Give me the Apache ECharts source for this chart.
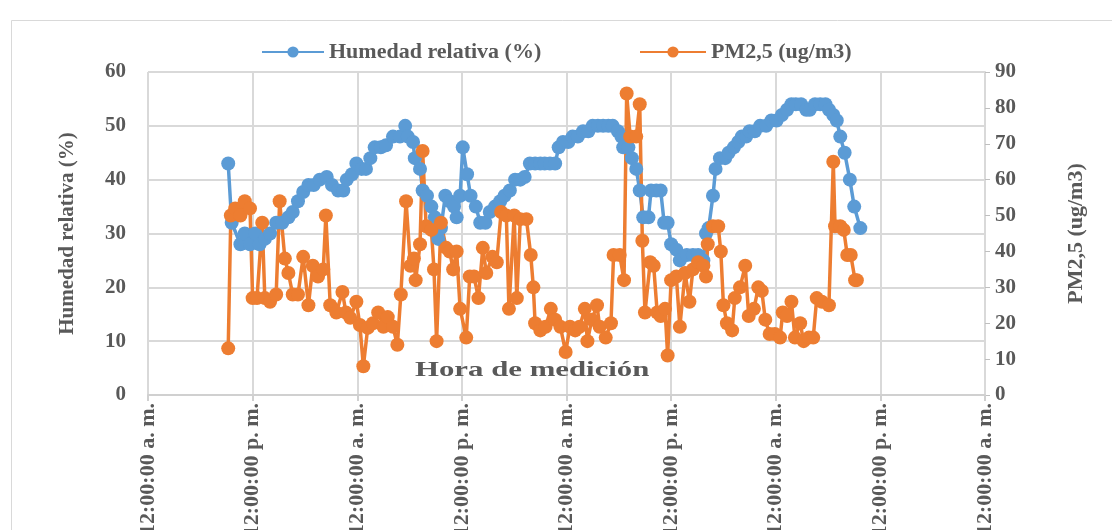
<!DOCTYPE html>
<html>
<head>
<meta charset="utf-8">
<title>Humedad relativa y PM2,5</title>
<script src="https://cdn.jsdelivr.net/npm/echarts@6/dist/echarts.min.js"></script>
<style>
  html, body { margin: 0; padding: 0; background: #fff; }
  #chart { width: 1112px; height: 530px; }
</style>
</head>
<body>
<div id="chart"></div>
<script>
// horas desde las 12:00 a. m. del primer dia
var tickLabels = ['12:00:00 a. m.', '12:00:00 p. m.', '12:00:00 a. m.', '12:00:00 p. m.', '12:00:00 a. m.',
  '12:00:00 p. m.', '12:00:00 a. m.', '12:00:00 p. m.', '12:00:00 a. m.'];

var horasHumedad = [
  9.2, 9.6, 10.6, 11.1, 11.7, 12.3, 12.8, 13.4, 14.0, 14.7,
  15.4, 16.1, 16.6, 17.2, 17.8, 18.4, 19.0, 19.7, 20.5, 21.1,
  21.8, 22.4, 22.8, 23.4, 23.9, 24.5, 25.0, 25.5, 26.0, 26.7,
  27.3, 28.1, 28.9, 29.5, 29.8, 30.4, 30.6, 31.2, 31.5, 32.0,
  32.5, 32.9, 33.3, 33.6, 34.1, 34.6, 35.1, 35.4, 35.8, 36.1,
  36.6, 37.0, 37.6, 38.1, 38.7, 39.2, 39.8, 40.4, 40.9, 41.5,
  42.1, 42.7, 43.2, 43.8, 44.4, 45.0, 45.5, 46.1, 46.7, 47.1,
  47.6, 48.2, 48.7, 49.3, 49.9, 50.5, 51.0, 51.6, 52.2, 52.8,
  53.3, 53.9, 54.3, 54.5, 55.1, 55.5, 56.0, 56.4, 56.8, 57.4,
  57.7, 58.3, 58.8, 59.2, 59.6, 60.0, 60.6, 61.0, 61.8, 62.5,
  63.1, 63.7, 64.0, 64.3, 64.8, 65.1, 65.6, 66.2, 66.6, 67.2,
  67.7, 68.1, 68.6, 69.0, 69.6, 70.2, 70.9, 71.5, 72.1, 72.7,
  73.3, 73.8, 74.3, 74.9, 75.5, 75.9, 76.5, 77.1, 77.7, 78.1,
  78.6, 79.0, 79.4, 79.9, 80.5, 81.0, 81.7
];
var humedad = [
  43, 32, 28, 30, 28, 30, 28, 29, 30, 32,
  32, 33, 34, 36, 37.7, 39, 39, 40, 40.5, 39,
  38, 38, 40, 41, 43, 42, 42, 44, 46, 46,
  46.4, 48, 48, 50, 48, 47, 44, 42, 38, 37,
  35, 33, 29, 31, 37, 36, 35, 33, 37, 46,
  41, 37, 35, 32, 32, 34, 35, 36, 37, 38,
  40, 40, 40.5, 43, 43, 43, 43, 43, 43, 46,
  47, 47, 48, 48, 49, 49, 50, 50, 50, 50,
  50, 49, 48, 46, 46, 44, 42, 38, 33, 33,
  38, 38, 38, 32, 32, 28, 27, 25, 26, 26,
  26, 25, 30, 31, 37, 42, 44, 44, 45, 46,
  47, 48, 48, 49, 49, 50, 50, 51, 51, 52,
  53, 54, 54, 54, 53, 53, 54, 54, 54, 53,
  52, 51, 48, 45, 40, 35, 31
];

var horasPM = [
  9.2, 9.5, 10.0, 10.6, 11.1, 11.7, 12.0, 12.5, 13.1, 13.4,
  14.0, 14.7, 15.1, 15.7, 16.1, 16.6, 17.2, 17.8, 18.4, 18.9,
  19.5, 20.1, 20.4, 20.9, 21.6, 22.3, 22.7, 23.2, 23.9, 24.3,
  24.7, 25.2, 25.8, 26.4, 27.0, 27.5, 28.1, 28.6, 29.0, 29.6,
  30.1, 30.5, 30.7, 31.2, 31.5, 31.9, 32.5, 32.8, 33.1, 33.6,
  34.2, 34.6, 35.0, 35.4, 35.8, 36.5, 36.9, 37.4, 37.9, 38.4,
  38.8, 39.5, 40.0, 40.5, 41.1, 41.4, 42.0, 42.3, 42.7, 43.4,
  43.9, 44.2, 44.4, 45.0, 45.6, 46.2, 46.7, 47.3, 47.9, 48.4,
  49.0, 49.5, 50.1, 50.4, 50.9, 51.5, 51.8, 52.5, 53.1, 53.4,
  54.1, 54.6, 54.9, 55.3, 56.0, 56.4, 56.7, 57.0, 57.6, 58.0,
  58.4, 58.8, 59.3, 59.6, 60.0, 60.6, 61.0, 61.6, 62.1, 62.5,
  63.1, 63.7, 64.0, 64.2, 64.8, 65.4, 65.7, 66.0, 66.4, 67.0,
  67.3, 67.9, 68.5, 68.9, 69.5, 70.0, 70.4, 70.8, 71.3, 71.9,
  72.5, 72.8, 73.3, 73.8, 74.2, 74.8, 75.2, 75.8, 76.3, 76.7,
  77.3, 78.1, 78.6, 78.8, 79.4, 79.8, 80.2, 80.6, 81.1, 81.3
];
var pm25 = [
  13, 50, 52, 50, 54, 52, 27, 27, 48, 27,
  26, 28, 54, 38, 34, 28, 28, 38.5, 25, 36,
  33, 35, 50, 25, 23, 28.7, 23, 21.5, 26, 19.5,
  8, 18.7, 20, 23, 19, 21.7, 19, 14, 28, 54,
  36, 38, 32, 42, 68, 47, 46, 35, 15, 48,
  41, 40, 35, 40, 24, 16, 33, 33, 27, 41,
  34, 38.5, 37, 51, 50, 24, 50, 27, 49, 49,
  39, 30, 20, 18, 19, 24, 21, 19, 12, 19,
  18, 19, 24, 15, 21, 25, 19, 16, 20, 39,
  39, 32, 84, 72, 72, 81, 43, 23, 37, 36,
  23, 22, 24, 11, 32, 33, 19, 34, 26, 35,
  37, 36, 33, 42, 47, 47, 40, 25, 20, 18,
  27, 30, 36, 22, 24, 30, 29, 21, 17, 17,
  16, 23, 22, 26, 16, 20, 15, 16, 16, 27,
  26, 25, 65, 47, 47, 46, 39, 39, 32, 32
];

function pares(xs, ys) {
  var out = [];
  for (var i = 0; i < xs.length; i++) out.push([xs[i], ys[i]]);
  return out;
}

var fuente = 'Liberation Serif';
var gris = '#595959';
var chart = echarts.init(document.getElementById('chart'));

var option = {
  animation: false,
  backgroundColor: '#fff',
  graphic: [
    {
      type: 'rect', left: 9, top: 18, silent: true,
      shape: { width: 1200, height: 600 },
      style: { fill: 'none', stroke: '#d9d9d9', lineWidth: 1 }
    },
    {
      type: 'text', left: 415, top: 359, scaleX: 1.4, z: 1,
      style: { text: 'Hora de medición', font: 'bold 22px "Liberation Serif"', fill: gris }
    }
  ],
  legend: [
    {
      left: 256, top: 36, itemWidth: 62, itemHeight: 14,
      data: ['Humedad relativa (%)'],
      textStyle: { fontFamily: fuente, fontWeight: 'bold', fontSize: 22, color: gris }
    },
    {
      left: 634, top: 36, itemWidth: 66, itemHeight: 14,
      data: ['PM2,5 (ug/m3)'],
      textStyle: { fontFamily: fuente, fontWeight: 'bold', fontSize: 22, color: gris }
    }
  ],
  grid: { left: 148, right: 127, top: 72, bottom: 135, outerBoundsMode: 'none' },
  xAxis: {
    type: 'value', min: 0, max: 96, interval: 12,
    axisLine: { lineStyle: { color: '#d0d0d0', width: 2 } },
    axisTick: { show: true, length: 6, lineStyle: { color: '#d0d0d0', width: 2 } },
    splitLine: { show: true, lineStyle: { color: '#d9d9d9', width: 2 } },
    axisLabel: {
      rotate: 90, margin: 8,
      fontFamily: fuente, fontWeight: 'bold', fontSize: 22, color: gris,
      formatter: function (v) { return tickLabels[Math.round(v / 12)]; }
    }
  },
  yAxis: [
    {
      type: 'value', min: 0, max: 60, interval: 10,
      name: 'Humedad relativa (%)', nameLocation: 'middle', nameGap: 70, nameRotate: 90,
      nameTextStyle: { fontFamily: fuente, fontWeight: 'bold', fontSize: 21, color: gris },
      axisLine: { show: false }, axisTick: { show: false },
      splitLine: { lineStyle: { color: '#d9d9d9', width: 2 } },
      axisLabel: { margin: 22, fontFamily: fuente, fontWeight: 'bold', fontSize: 21, color: gris }
    },
    {
      type: 'value', min: 0, max: 90, interval: 10,
      name: 'PM2,5 (ug/m3)', nameLocation: 'middle', nameGap: 80, nameRotate: 90,
      nameTextStyle: { fontFamily: fuente, fontWeight: 'bold', fontSize: 22, color: gris },
      axisLine: { show: true, lineStyle: { color: '#d9d9d9', width: 2 } },
      axisTick: { show: true, length: 5, lineStyle: { color: '#bfbfbf', width: 1 } },
      splitLine: { show: false },
      axisLabel: { margin: 10, fontFamily: fuente, fontWeight: 'bold', fontSize: 21, color: gris }
    }
  ],
  series: [
    {
      name: 'Humedad relativa (%)', type: 'line', yAxisIndex: 0,
      data: pares(horasHumedad, humedad),
      symbol: 'circle', symbolSize: 14,
      itemStyle: { color: '#5b9bd5' },
      lineStyle: { color: '#5b9bd5', width: 3.5 }
    },
    {
      name: 'PM2,5 (ug/m3)', type: 'line', yAxisIndex: 1,
      data: pares(horasPM, pm25),
      symbol: 'circle', symbolSize: 14,
      itemStyle: { color: '#ed7d31' },
      lineStyle: { color: '#ed7d31', width: 3.5 }
    }
  ]
};

chart.setOption(option);
</script>
</body>
</html>
